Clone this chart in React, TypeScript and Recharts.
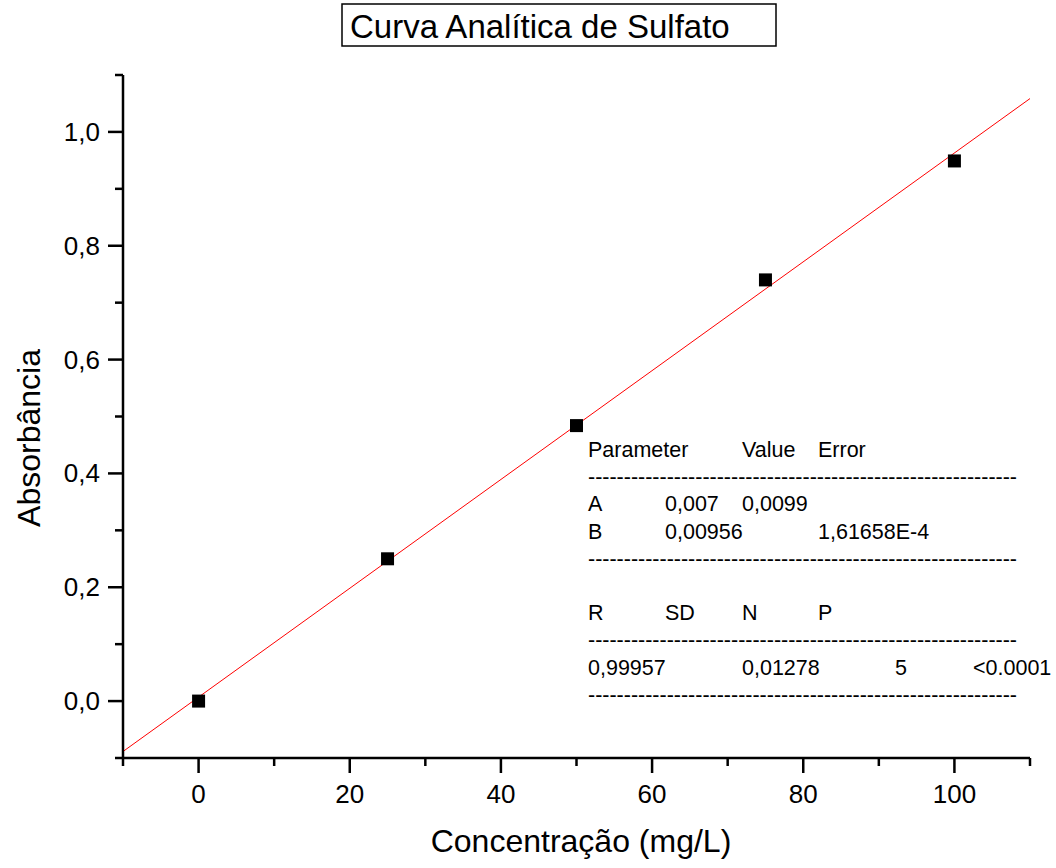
import { ScatterChart, Scatter, XAxis, YAxis, ReferenceLine } from "recharts";

// leituras do gráfico
const concentracoes = [0, 25, 50, 75, 100];
const absorbancias = [0.0, 0.25, 0.484, 0.74, 0.949];

// reta ajustada: y = A + B x
const coefA = 0.007;
const coefB = 0.00956;
const faixaX = [-10, 110];

const xTicks = [-10, 0, 10, 20, 30, 40, 50, 60, 70, 80, 90, 100, 110];
const xMajor = [0, 20, 40, 60, 80, 100];
const yTicks = [-0.1, 0, 0.1, 0.2, 0.3, 0.4, 0.5, 0.6, 0.7, 0.8, 0.9, 1.0, 1.1];
const yMajor = [0, 0.2, 0.4, 0.6, 0.8, 1.0];

const titulo = "Curva Analítica de Sulfato";
const rotuloX = "Concentração (mg/L)";
const rotuloY = "Absorbância";

// tabela de resultados do ajuste (linha a linha, "---" = tracejado, [] = linha vazia)
const tabela: (string | null)[][] = [
  ["Parameter", null, "Value", "Error"],
  ["---"],
  ["A", "0,007", "0,0099"],
  ["B", "0,00956", null, "1,61658E-4"],
  ["---"],
  [],
  ["R", "SD", "N", "P"],
  ["---"],
  ["0,99957", null, "0,01278", null, "5", "<0.0001"],
  ["---"],
];

const FONTE = "'Liberation Sans', Arial, Helvetica, sans-serif";
const colunas = [588, 665, 742, 818, 895, 973];

const pontos = concentracoes.map((c, i) => ({ x: c, y: absorbancias[i] }));

const fmtY = (v: number) => v.toFixed(1).replace(".", ",");
const isMajor = (lista: number[], v: number) => lista.some((m) => Math.abs(m - v) < 1e-9);

const TickX = (props: any) => {
  const { x, y, payload } = props;
  const major = isMajor(xMajor, payload.value);
  return (
    <g>
      <line x1={x} x2={x} y1={y} y2={y + (major ? 15 : 8)} stroke="#000" strokeWidth={2.5} />
      {major && (
        <text x={x} y={y + 45} textAnchor="middle" fontSize={26} fontFamily={FONTE} fill="#000">
          {payload.value}
        </text>
      )}
    </g>
  );
};

const TickY = (props: any) => {
  const { x, y, payload } = props;
  const major = isMajor(yMajor, payload.value);
  return (
    <g>
      <line x1={x} x2={x - (major ? 15 : 8)} y1={y} y2={y} stroke="#000" strokeWidth={2.5} />
      {major && (
        <text x={x - 23} y={y + 9} textAnchor="end" fontSize={26} fontFamily={FONTE} fill="#000">
          {fmtY(payload.value)}
        </text>
      )}
    </g>
  );
};

const Quadrado = (props: any) => {
  const { cx, cy } = props;
  return <rect x={cx - 6.5} y={cy - 6.5} width={13} height={13} fill="#000" />;
};

export default function App() {
  return (
    <div style={{ position: "relative", width: 1056, height: 868, background: "#fff" }}>
      <style>{"body{margin:0}"}</style>
      <ScatterChart width={1056} height={868} margin={{ top: 75, right: 26, bottom: 30, left: 23 }}>
        <XAxis
          type="number"
          dataKey="x"
          domain={faixaX}
          ticks={xTicks}
          interval={0}
          allowDataOverflow
          height={80}
          tickLine={false}
          tickSize={0}
          tickMargin={0}
          tick={<TickX />}
          axisLine={{ stroke: "#000", strokeWidth: 2.5 }}
        />
        <YAxis
          type="number"
          dataKey="y"
          domain={[-0.1, 1.1]}
          ticks={yTicks}
          interval={0}
          allowDataOverflow
          width={100}
          tickLine={false}
          tickSize={0}
          tickMargin={0}
          tick={<TickY />}
          axisLine={{ stroke: "#000", strokeWidth: 2.5 }}
        />
        <Scatter data={pontos} shape={<Quadrado />} isAnimationActive={false} />
        <ReferenceLine
          segment={[
            { x: faixaX[0], y: coefA + coefB * faixaX[0] },
            { x: faixaX[1], y: coefA + coefB * faixaX[1] },
          ]}
          stroke="#ff0000"
          strokeWidth={1}
        />
      </ScatterChart>

      <svg
        width={1056}
        height={868}
        style={{ position: "absolute", left: 0, top: 0, pointerEvents: "none" }}
      >
        <rect x={342} y={4} width={434} height={42} fill="none" stroke="#000" strokeWidth={1.5} />
        <text x={350} y={38} fontSize={33} fontFamily={FONTE} fill="#000">
          {titulo}
        </text>

        <text x={581} y={852} textAnchor="middle" fontSize={32} fontFamily={FONTE} fill="#000">
          {rotuloX}
        </text>
        <text
          x={40}
          y={438}
          textAnchor="middle"
          fontSize={32}
          fontFamily={FONTE}
          fill="#000"
          transform="rotate(-90 40 438)"
        >
          {rotuloY}
        </text>

        {tabela.map((linha, i) => {
          const yb = 457 + i * 27.2;
          if (linha[0] === "---") {
            return (
              <text
                key={i}
                x={588}
                y={yb}
                fontSize={21.5}
                fontFamily={FONTE}
                textLength={429}
                lengthAdjust="spacing"
                fill="#000"
              >
                {"-".repeat(60)}
              </text>
            );
          }
          return linha.map((t, j) =>
            t ? (
              <text key={`${i}-${j}`} x={colunas[j]} y={yb} fontSize={21.5} fontFamily={FONTE} fill="#000">
                {t}
              </text>
            ) : null
          );
        })}
      </svg>
    </div>
  );
}
